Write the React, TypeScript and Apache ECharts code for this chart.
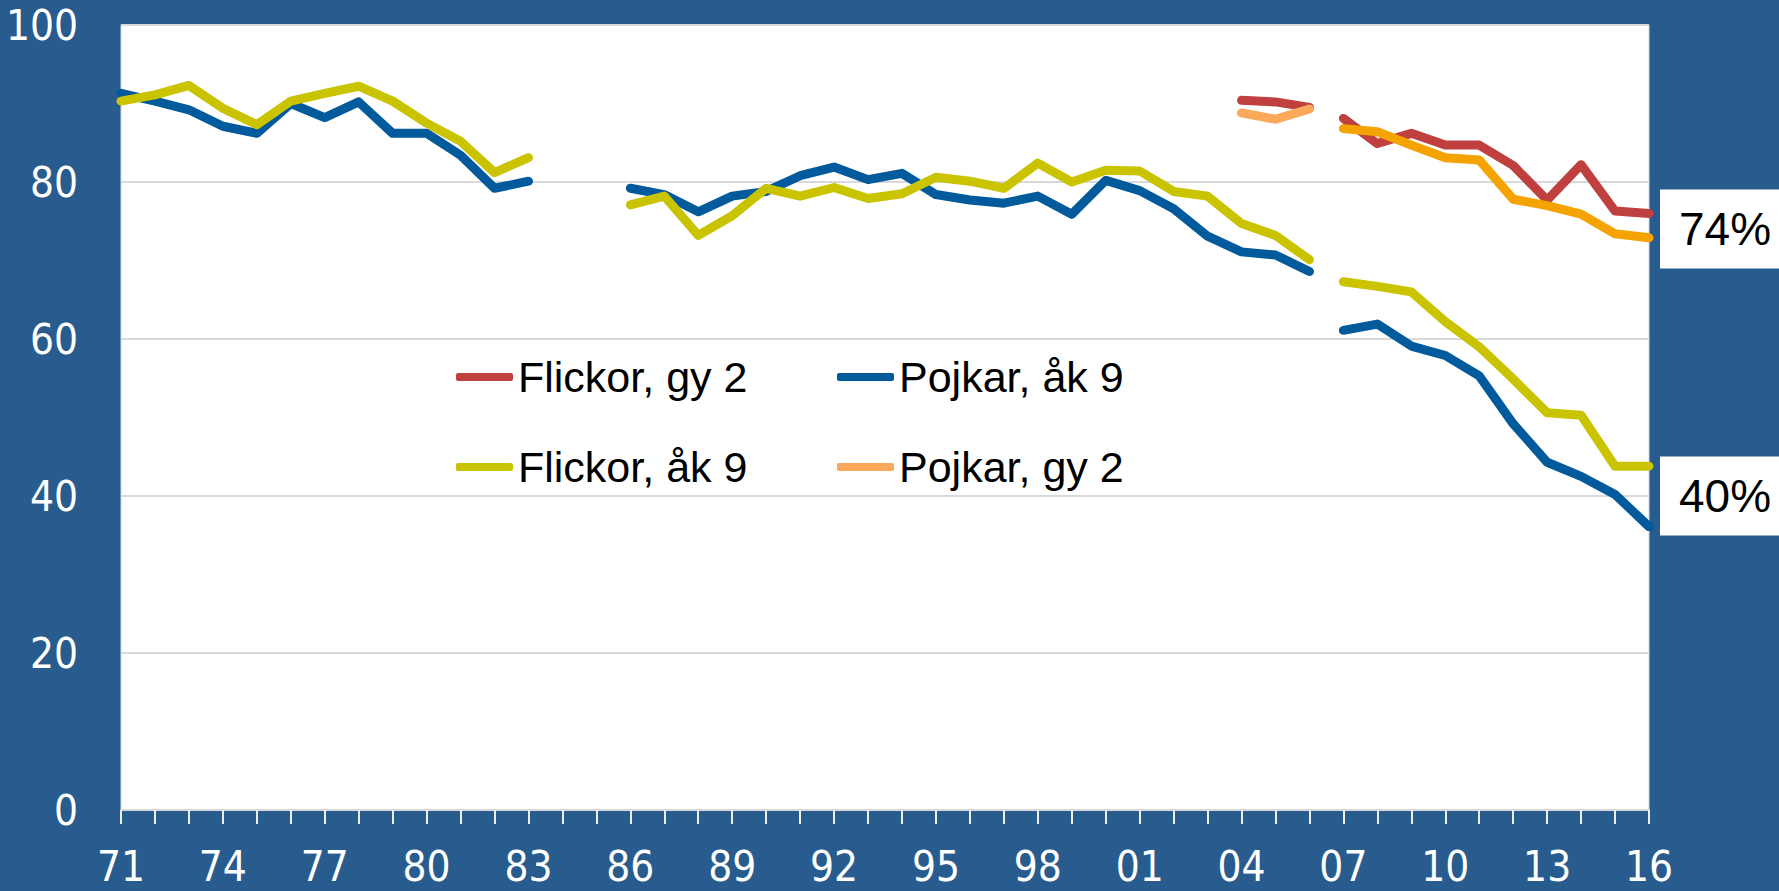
import React, { useEffect, useRef } from "react";
import * as echarts from "echarts";

const years = [
  "71", "72", "73", "74", "75", "76", "77", "78", "79", "80",
  "81", "82", "83", "84", "85", "86", "87", "88", "89", "90",
  "91", "92", "93", "94", "95", "96", "97", "98", "99", "00",
  "01", "02", "03", "04", "05", "06", "07", "08", "09", "10",
  "11", "12", "13", "14", "15", "16",
];

// Pojkar, åk 9 (1971–2016)
const pojkarAk9 = [
  91.3, 90.3, 89.2, 87.1, 86.2, 90.0, 88.2, 90.2, 86.2, 86.2,
  83.4, 79.2, 80.1, null, null, 79.2, 78.4, 76.2, 78.2, 78.8,
  80.8, 81.9, 80.3, 81.1, 78.4, 77.7, 77.3, 78.2, 75.9, 80.2,
  78.9, 76.6, 73.1, 71.1, 70.7, 68.6, 61.1, 61.9, 59.1, 57.9,
  55.3, 49.2, 44.3, 42.5, 40.2, 36.1,
];

// Flickor, åk 9 (1971–2016)
const flickorAk9 = [
  90.3, 91.1, 92.3, 89.4, 87.3, 90.3, 91.3, 92.2, 90.3, 87.5,
  85.2, 81.2, 83.1, null, null, 77.1, 78.2, 73.2, 75.7, 79.2,
  78.2, 79.3, 77.9, 78.5, 80.6, 80.1, 79.2, 82.4, 80.0, 81.5,
  81.4, 78.8, 78.2, 74.7, 73.2, 70.1, 67.3, 66.7, 66.0, 62.2,
  59.0, 54.9, 50.6, 50.3, 43.8, 43.8,
];

// Gymnasiet år 2 (2004–2016)
const gyYears = ["04", "05", "06", "07", "08", "09", "10", "11", "12", "13", "14", "15", "16"];
const flickorGy2 = [90.4, 90.2, 89.5, 88.1, 84.9, 86.2, 84.7, 84.7, 82.1, 77.7, 82.2, 76.3, 76.0];
const pojkarGy2 = [88.8, 88.0, 89.3, 86.8, 86.4, 84.7, 83.1, 82.8, 77.8, 77.0, 75.9, 73.4, 72.9];

// New survey method from this year: lines are broken here
const splitYear = "07";

const endLabels = [
  { text: "74%", value: 74 },
  { text: "40%", value: 40 },
];

const yMin = 0;
const yMax = 100;
const yInterval = 20;

const BG = "#295C8E";
const C_BLUE = "#005A9C";
const C_YELLOW = "#C9C300";
const C_RED = "#C0403F";
const C_LORANGE = "#FBA85A";
const C_ORANGE = "#F5A300";
const AXIS_FONT = "'Liberation Sans Narrow', 'DejaVu Sans Condensed', Lato, sans-serif";
const TEXT_FONT = "'Liberation Sans', Arial, sans-serif";

function App() {
  const ref = useRef<HTMLDivElement>(null);

  useEffect(() => {
    if (!ref.current) return;
    const chart = echarts.init(ref.current, undefined, { renderer: "svg" });

    const splitIdx = years.indexOf(splitYear);
    const fromGy = (vals: number[]) =>
      years.map((y) => {
        const k = gyYears.indexOf(y);
        return k >= 0 ? vals[k] : null;
      });
    const early = (arr: (number | null)[]) => arr.map((v, i) => (i < splitIdx ? v : null));
    const late = (arr: (number | null)[]) => arr.map((v, i) => (i >= splitIdx ? v : null));

    const mk = (name: string, data: (number | null)[], color: string, extra: any = {}) => ({
      type: "line",
      name,
      data,
      symbol: "none",
      showSymbol: false,
      connectNulls: false,
      lineStyle: { color, width: 9, cap: "round", join: "round" },
      itemStyle: { color },
      emphasis: { disabled: true },
      ...extra,
    });

    const fGy = fromGy(flickorGy2);
    const pGy = fromGy(pojkarGy2);

    const legendBase = {
      orient: "vertical",
      icon: "roundRect",
      itemWidth: 57,
      itemHeight: 8,
      itemGap: 40,
      padding: 0,
      selectedMode: false,
      textStyle: { color: "#000", fontSize: 43, fontFamily: TEXT_FONT, lineHeight: 50 },
    };

    const option: any = {
      animation: false,
      backgroundColor: BG,
      grid: {
        left: 121,
        right: 130,
        top: 25,
        bottom: 81,
        show: true,
        backgroundColor: "#ffffff",
        borderColor: "#d0d8e2",
        borderWidth: 1,
      },
      legend: [
        { ...legendBase, left: 456, top: 352, data: ["Flickor, gy 2", "Flickor, åk 9"] },
        { ...legendBase, left: 837, top: 352, data: ["Pojkar, åk 9", "Pojkar, gy 2"] },
      ],
      xAxis: {
        type: "category",
        data: years,
        boundaryGap: false,
        axisLine: { show: true, lineStyle: { color: "#d9d9d9", width: 2 } },
        axisTick: { show: true, interval: 0, length: 14, lineStyle: { color: "#eeeeee", width: 2 } },
        axisLabel: {
          interval: 2,
          color: "#ffffff",
          fontSize: 42,
          lineHeight: 36,
          fontFamily: AXIS_FONT,
          margin: 56,
          verticalAlign: "middle",
        },
        splitLine: { show: false },
      },
      yAxis: {
        type: "value",
        min: yMin,
        max: yMax,
        interval: yInterval,
        axisLine: { show: false },
        axisTick: { show: false },
        axisLabel: {
          color: "#ffffff",
          fontSize: 42,
          lineHeight: 36,
          fontFamily: AXIS_FONT,
          margin: 43,
          verticalAlign: "middle",
        },
        splitLine: { show: true, lineStyle: { color: "#d9d9d9", width: 2 } },
      },
      series: [
        mk("Pojkar, åk 9", early(pojkarAk9), C_BLUE),
        mk("Pojkar, åk 9", late(pojkarAk9), C_BLUE),
        mk("Flickor, åk 9", early(flickorAk9), C_YELLOW),
        mk("Flickor, åk 9", late(flickorAk9), C_YELLOW, {
          markPoint: {
            silent: true,
            symbol: "rect",
            symbolSize: [120, 79],
            symbolOffset: [71, 0],
            itemStyle: { color: "#ffffff" },
            label: {
              show: true,
              position: "inside",
              formatter: "{b}",
              color: "#000000",
              fontSize: 46,
              fontFamily: TEXT_FONT,
              offset: [5, 0],
            },
            data: endLabels.map((l) => ({ name: l.text, coord: [years.length - 1, l.value] })),
          },
        }),
        mk("Flickor, gy 2", early(fGy), C_RED),
        mk("Flickor, gy 2", late(fGy), C_RED),
        mk("Pojkar, gy 2", early(pGy), C_LORANGE),
        mk("Pojkar, gy 2 (från 2007)", late(pGy), C_ORANGE),
      ],
    };

    chart.setOption(option);
    return () => chart.dispose();
  }, []);

  return (
    <div
      ref={ref}
      style={{ position: "fixed", left: 0, top: 0, width: "100vw", height: "100vh", background: BG }}
    />
  );
}

export default App;
